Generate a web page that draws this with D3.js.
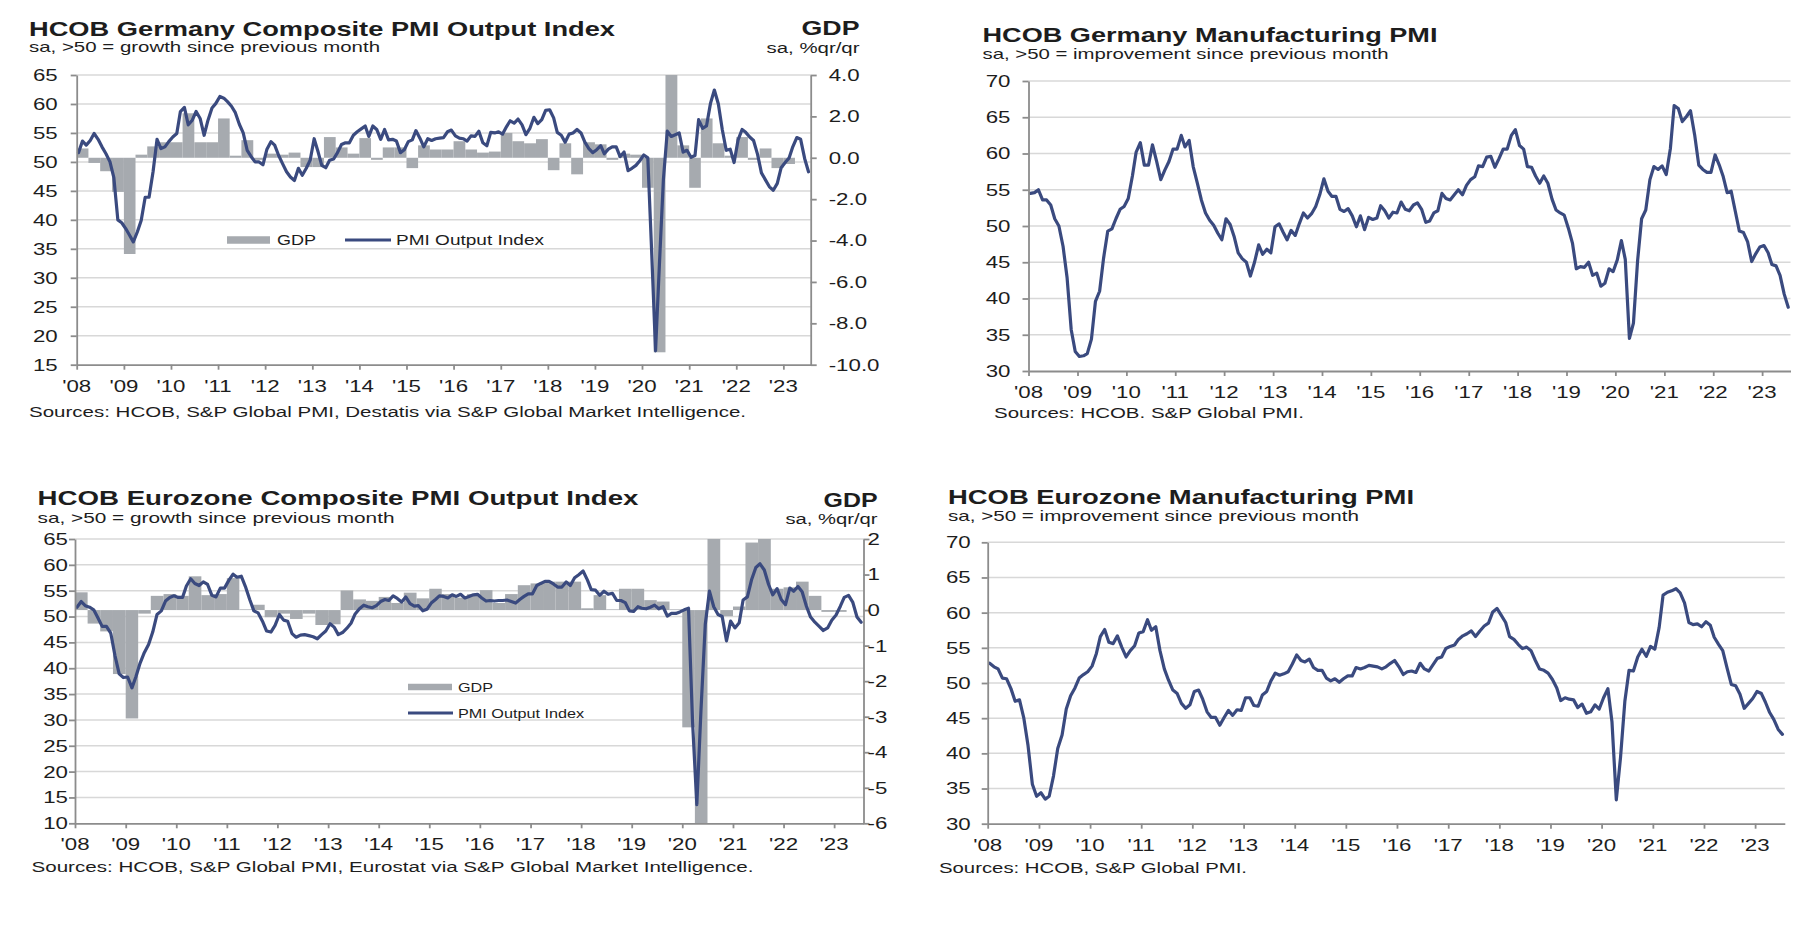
<!DOCTYPE html>
<html><head><meta charset="utf-8">
<script src="https://cdn.jsdelivr.net/npm/d3@7"></script>
<style>
body{margin:0;background:#fff}
svg{display:block}
text{font-family:"Liberation Sans",Arial,Helvetica,sans-serif;fill:#1d1d1d}
</style>
</head><body>
<svg id="c" width="1804" height="942"></svg>
<script>
// ---------- categories / tick labels ----------
const yearLabels = ["'08","'09","'10","'11","'12","'13","'14","'15","'16","'17","'18","'19","'20","'21","'22","'23"];
const months = d3.timeMonth.range(new Date(2008,0,1), new Date(2023,7,1));          // Jan 2008 .. Jul 2023
const quarters = d3.timeMonth.every(3).range(new Date(2008,0,1), new Date(2023,6,1)); // 2008Q1 .. 2023Q2
const compTicksDE = [15,20,25,30,35,40,45,50,55,60,65];
const gdpTicksDE = [-10,-8,-6,-4,-2,0,2,4];
const compTicksEZ = [10,15,20,25,30,35,40,45,50,55,60,65];
const gdpTicksEZ = [-6,-5,-4,-3,-2,-1,0,1,2];
const mfgTicks = [30,35,40,45,50,55,60,65,70];

// ---------- series ----------
const deComposite = [
51.6,53.6,52.9,53.7,54.9,53.9,52.6,51.4,50.0,47.3,40.0,39.5,
38.5,37.3,36.2,37.9,39.9,43.9,43.9,48.3,53.9,52.3,52.6,53.5,
54.3,54.9,58.7,59.4,56.4,57.2,58.7,57.5,54.6,57.2,59.3,60.1,
61.3,61.0,60.4,59.6,58.5,56.5,55.0,52.0,50.9,50.0,50.0,49.5,
52.2,53.5,52.9,51.1,49.7,48.3,47.4,46.8,48.9,47.7,48.9,50.3,
54.0,51.7,49.4,49.0,50.3,50.5,51.6,53.0,53.3,53.3,54.6,55.2,
55.7,56.2,54.4,56.2,55.6,53.9,55.6,53.8,53.9,53.6,51.6,52.1,
53.5,53.8,55.4,54.1,52.6,54.0,53.7,54.0,54.1,54.2,55.2,55.5,
54.5,54.1,54.0,53.6,54.5,54.4,55.3,53.3,52.8,55.1,55.0,55.2,
54.8,56.1,57.1,56.7,57.4,56.4,54.7,55.8,57.7,56.6,57.3,58.9,
59.0,57.6,55.1,54.6,53.4,54.8,55.0,55.6,55.0,53.4,52.3,51.6,
52.1,52.8,51.4,52.2,52.6,52.6,50.9,51.7,48.5,48.9,49.4,50.2,
51.2,50.7,35.0,17.4,32.3,47.0,55.3,54.4,54.7,55.0,51.7,52.0,
50.8,51.1,57.3,55.8,56.2,60.1,62.4,60.0,55.5,52.0,52.2,49.9,
53.8,55.6,55.1,54.3,53.7,51.3,48.1,46.9,45.7,45.1,46.3,49.0,
49.9,50.7,52.6,54.2,53.9,50.6,48.3];

const deGDP = [
0.45,-0.25,-0.65,-1.65,
-4.65,0.15,0.55,0.75,
0.75,2.15,0.75,0.75,
1.9,0.1,0.85,-0.1,
0.2,0.15,0.25,-0.45,
-0.45,1.0,0.5,0.2,
0.95,-0.1,0.5,0.5,
-0.5,0.6,0.4,0.4,
0.8,0.4,0.25,0.3,
1.2,0.8,0.7,0.9,
-0.6,0.7,-0.8,0.75,
0.65,-0.1,0.2,0.15,
-1.45,-9.4,8.7,0.6,
-1.45,1.9,0.7,0.1,
1.0,-0.1,0.45,-0.5,
-0.3,0.0];

const deManufacturing = [
54.5,54.6,55.0,53.6,53.6,52.9,51.0,50.0,47.2,42.9,35.7,32.7,
32.0,32.1,32.4,34.4,39.6,41.0,45.6,49.3,49.6,51.0,52.3,52.7,
53.8,56.9,60.2,61.5,58.4,58.4,61.2,58.9,56.4,57.7,58.9,60.6,
60.6,62.5,60.9,61.8,58.2,55.9,53.6,51.8,50.8,50.1,49.0,48.1,
51.0,50.2,48.6,46.3,45.5,45.0,43.1,45.0,47.4,46.1,46.8,46.3,
49.9,50.3,49.2,48.1,49.4,48.7,50.3,51.8,51.1,51.7,52.7,54.3,
56.5,54.8,54.1,54.1,52.3,52.0,52.4,51.4,49.9,51.4,49.5,51.2,
50.9,51.1,52.8,52.1,51.1,51.9,51.8,53.3,52.3,52.1,52.9,53.2,
52.3,50.5,50.7,51.8,52.1,54.5,53.8,53.6,54.3,55.0,54.3,55.6,
56.4,56.8,58.3,58.2,59.5,59.6,58.1,59.3,60.6,60.6,62.5,63.3,
61.1,60.6,58.2,58.1,56.9,55.9,56.9,55.9,53.7,52.2,51.8,51.5,
49.7,47.6,44.1,44.4,44.3,45.0,43.2,43.5,41.7,42.1,44.1,43.7,
45.3,48.0,45.4,34.5,36.6,45.2,51.0,52.2,56.4,58.2,57.8,58.3,
57.1,60.7,66.6,66.2,64.4,65.1,65.9,62.6,58.4,57.8,57.4,57.4,
59.8,58.4,56.9,54.6,54.8,52.0,49.3,49.1,47.8,45.1,46.2,47.1,
47.3,46.3,44.7,44.5,43.2,40.6,38.8];

const ezComposite = [
51.8,52.9,52.1,51.8,51.3,49.7,48.1,48.1,46.8,42.5,38.9,38.2,
38.3,36.2,38.3,41.0,43.0,44.6,47.0,50.4,51.1,53.0,53.7,54.0,
53.7,53.7,55.9,57.3,56.4,56.0,56.7,56.2,54.1,53.8,55.5,55.5,
57.0,58.2,57.6,57.8,55.8,53.3,51.1,50.7,49.1,47.2,47.0,48.3,
50.4,49.3,49.1,46.7,46.0,46.4,46.5,46.3,46.1,45.7,46.5,47.2,
48.6,47.9,46.5,46.9,47.7,48.7,50.5,51.5,52.2,51.9,51.7,52.1,
52.9,53.3,53.1,54.0,53.5,52.8,53.8,52.5,52.0,52.1,51.1,51.4,
52.6,53.3,54.0,53.9,53.6,54.2,53.9,54.3,53.6,53.9,54.2,54.3,
53.6,53.0,53.1,53.0,53.1,53.1,53.2,52.9,52.6,53.3,53.9,54.4,
54.4,56.0,56.4,56.8,56.8,56.3,55.7,55.7,56.7,56.0,57.5,58.1,
58.8,57.1,55.2,55.1,54.1,54.9,54.3,54.5,53.1,53.1,52.7,51.1,
51.0,51.9,51.6,51.5,51.8,52.2,51.5,51.9,50.1,50.6,50.6,50.9,
51.3,51.6,29.7,13.6,31.9,48.5,54.9,51.9,50.4,50.0,45.3,49.1,
47.8,48.8,53.2,53.8,57.1,59.5,60.2,59.0,56.2,54.2,55.4,53.3,
52.3,55.5,54.9,55.8,54.8,52.0,49.9,48.9,48.1,47.3,47.8,49.3,
50.3,52.0,53.7,54.1,52.8,49.9,48.9];

const ezGDP = [
0.5,-0.38,-0.6,-1.8,
-3.05,-0.1,0.4,0.45,
0.4,0.95,0.42,0.45,
0.9,0.02,0.15,-0.2,
-0.1,-0.25,-0.1,-0.42,
-0.4,0.55,0.3,0.26,
0.37,0.2,0.49,0.33,
0.6,0.45,0.35,0.45,
0.56,0.2,0.45,0.7,
0.75,0.8,0.8,0.8,
0.05,0.42,0.02,0.6,
0.6,0.28,0.24,0.02,
-3.3,-11.6,12.4,-0.17,
0.1,1.9,2.2,0.6,
0.64,0.8,0.4,-0.05,
-0.05,0.0];

const ezManufacturing = [
52.8,52.3,52.0,50.7,50.6,49.2,47.4,47.6,45.0,41.1,35.6,33.9,
34.4,33.5,33.9,36.8,40.7,42.6,46.3,48.2,49.3,50.7,51.2,51.6,
52.4,54.2,56.6,57.6,55.8,55.6,56.7,55.1,53.7,54.6,55.3,57.1,
57.3,59.0,57.5,58.0,54.6,52.0,50.4,49.0,48.5,47.1,46.4,46.9,
48.8,49.0,47.7,45.9,45.1,45.1,44.0,45.1,46.1,45.4,46.2,46.1,
47.9,47.9,46.8,46.7,48.3,48.8,50.3,51.4,51.1,51.3,51.6,52.7,
54.0,53.2,53.0,53.4,52.2,51.8,51.8,50.7,50.3,50.6,50.1,50.6,
51.0,51.0,52.2,52.0,52.2,52.5,52.4,52.3,52.0,52.3,52.8,53.2,
52.3,51.2,51.6,51.7,51.5,52.8,52.0,51.7,52.6,53.5,53.7,54.9,
55.2,55.4,56.2,56.7,57.0,57.4,56.6,57.4,58.1,58.5,60.1,60.6,
59.6,58.6,56.6,56.2,55.5,54.9,55.1,54.6,53.2,52.0,51.8,51.4,
50.5,49.3,47.5,47.9,47.7,47.6,46.5,47.0,45.7,45.9,46.9,46.3,
47.9,49.2,44.5,33.4,39.4,47.4,51.8,51.7,53.7,54.8,53.8,55.2,
54.8,57.9,62.5,62.9,63.1,63.4,62.8,61.4,58.6,58.3,58.4,58.0,
58.7,58.2,56.5,55.5,54.6,52.1,49.8,49.6,48.4,46.4,47.1,47.8,
48.8,48.5,47.3,45.8,44.8,43.4,42.7];

// ---------- styling ----------
const navy = "#3a4a7f", barGrey = "#a6aaaf", gridC = "#d8d8d8", axisC = "#8c8c8c";
const TICK_SIZE = 16.5, TICK_SX = 1.35;
const svg = d3.select("#c");
svg.append("rect").attr("width",1804).attr("height",942).attr("fill","#fff");

function txt(g, s, x, y, o) {
  const t = g.append("text").text(s)
    .attr("font-size", o.size).attr("font-weight", o.weight || "normal");
  if (o.width) {
    t.attr("x", o.anchor === "end" ? x - o.width : x).attr("y", y)
     .attr("textLength", o.width).attr("lengthAdjust", "spacingAndGlyphs");
  } else {
    t.attr("transform", `translate(${x},${y}) scale(${o.sx || 1},1)`)
     .attr("text-anchor", o.anchor || "start");
    if (o.dy) t.attr("dy", o.dy);
  }
  return t;
}

function panel(cfg) {
  const g = svg.append("g");
  const x = d3.scaleTime().domain([new Date(2008,0,1), new Date(2023,7,1)]).range([cfg.x0, cfg.x1]);
  const y = d3.scaleLinear().domain(cfg.pmiDomain).range([cfg.yBot, cfg.yTop]);

  // gridlines
  g.append("g").selectAll("line").data(cfg.pmiTicks.filter(v => v !== cfg.pmiDomain[0])).join("line")
    .attr("x1", cfg.x0).attr("x2", cfg.x1).attr("y1", d => y(d)).attr("y2", d => y(d))
    .attr("stroke", gridC).attr("stroke-width", 1.5);

  let y2 = null;
  if (cfg.gdp) {
    y2 = d3.scaleLinear().domain(cfg.gdpDomain).range([cfg.yBot, cfg.yTop]);
    const clipId = cfg.id + "clip";
    g.append("clipPath").attr("id", clipId).append("rect")
      .attr("x", cfg.x0).attr("y", cfg.yTop).attr("width", cfg.x1 - cfg.x0).attr("height", cfg.yBot - cfg.yTop);
    g.append("g").attr("clip-path", `url(#${clipId})`).selectAll("rect")
      .data(quarters.map((q, i) => ({q, v: cfg.gdp[i]}))).join("rect")
      .attr("x", d => x(d.q)).attr("width", d => x(d3.timeMonth.offset(d.q, 3)) - x(d.q))
      .attr("y", d => y2(Math.max(0, d.v))).attr("height", d => Math.abs(y2(d.v) - y2(0)))
      .attr("fill", barGrey);
  }

  const line = d3.line().x((d, i) => x(d3.timeDay.offset(months[i], 14))).y(d => y(d));
  g.append("path").datum(cfg.pmi).attr("d", line).attr("fill", "none")
    .attr("stroke", navy).attr("stroke-width", 3.2).attr("stroke-linejoin", "round").attr("stroke-linecap","round");

  const yearDates = d3.timeYear.range(new Date(2008,0,1), new Date(2023,1,1));
  const styleAxis = sel => { sel.selectAll("path,line").attr("stroke", axisC).attr("stroke-width", 1.8); sel.selectAll("text").remove(); };

  g.append("g").attr("transform", `translate(${cfg.x0},0)`)
    .call(d3.axisLeft(y).tickValues(cfg.pmiTicks).tickSize(6).tickSizeOuter(0).tickFormat("")).call(styleAxis);
  g.append("g").attr("transform", `translate(0,${cfg.yBot})`)
    .call(d3.axisBottom(x).tickValues(yearDates).tickSize(5).tickSizeOuter(0).tickFormat("")).call(styleAxis);
  if (y2) {
    g.append("g").attr("transform", `translate(${cfg.x1},0)`)
      .call(d3.axisRight(y2).tickValues(cfg.gdpTicks).tickSize(6).tickSizeOuter(0).tickFormat("")).call(styleAxis);
    cfg.gdpTicks.forEach(v => txt(g, cfg.gdpFmt(v), cfg.x1 + cfg.rightGap, y2(v), {size: TICK_SIZE, sx: TICK_SX, dy: "0.36em"}));
  }
  cfg.pmiTicks.forEach(v => txt(g, String(v), cfg.x0 - cfg.leftGap, y(v), {size: TICK_SIZE, sx: TICK_SX, anchor: "end", dy: "0.36em"}));
  yearDates.forEach((d, i) => txt(g, yearLabels[i], x(d), cfg.yBot + 27, {size: TICK_SIZE, sx: TICK_SX, anchor: "middle"}));

  // titles
  const T = cfg.text;
  txt(g, T.title, T.tx, T.ty, {size: 20.5, weight: "bold", width: T.tw});
  txt(g, T.sub, T.tx, T.sy, {size: 14.5, width: T.sw});
  if (T.gdpX) {
    txt(g, "GDP", T.gdpX, T.gdpY, {size: 20, weight: "bold", anchor: "end", width: T.gdpW});
    txt(g, "sa, %qr/qr", T.gdpX, T.unitY, {size: 15.5, anchor: "end", width: T.unitW});
  }
  txt(g, T.src, T.srcX, T.srcY, {size: 15.5, width: T.srcW});

  if (cfg.legend) {
    const L = cfg.legend;
    g.append("rect").attr("x", L.gx0).attr("width", L.gx1 - L.gx0).attr("y", L.gy - L.gh/2).attr("height", L.gh).attr("fill", barGrey);
    txt(g, "GDP", L.gtx, L.gy + L.size*0.36, {size: L.size, width: L.gtw});
    g.append("line").attr("x1", L.lx0).attr("x2", L.lx1).attr("y1", L.ly).attr("y2", L.ly).attr("stroke", navy).attr("stroke-width", 3.2);
    txt(g, "PMI Output Index", L.ltx, L.ly + L.size*0.36, {size: L.size, width: L.ltw});
  }
}

const f1 = v => v.toFixed(1);
const f0 = v => v.toFixed(0);

panel({id: "p1", x0: 76.7, x1: 810.7, yTop: 75, yBot: 364.7,
  pmiDomain: [15,65], pmiTicks: compTicksDE, pmi: deComposite,
  gdp: deGDP, gdpDomain: [-10,4], gdpTicks: gdpTicksDE, gdpFmt: f1,
  leftGap: 19, rightGap: 18,
  text: {title: "HCOB Germany Composite PMI Output Index", tx: 29, ty: 35.5, tw: 586,
         sub: "sa, >50 = growth since previous month", sy: 51.5, sw: 351,
         gdpX: 859.5, gdpY: 35, gdpW: 58, unitY: 53, unitW: 93,
         src: "Sources: HCOB, S&P Global PMI, Destatis via S&P Global Market Intelligence.", srcX: 29, srcY: 417, srcW: 717},
  legend: {gx0: 227, gx1: 270, gy: 240, gh: 7.5, gtx: 277, gtw: 39,
           lx0: 345, lx1: 391, ly: 240, ltx: 396, ltw: 148, size: 14.5}
});

panel({id: "p2", x0: 1028.5, x1: 1790.5, yTop: 81, yBot: 371,
  pmiDomain: [30,70], pmiTicks: mfgTicks, pmi: deManufacturing,
  leftGap: 18,
  text: {title: "HCOB Germany Manufacturing PMI", tx: 982.5, ty: 42, tw: 455,
         sub: "sa, >50 = improvement since previous month", sy: 58.5, sw: 406,
         src: "Sources: HCOB. S&P Global PMI.", srcX: 994, srcY: 418, srcW: 310}
});

panel({id: "p3", x0: 75, x1: 863.5, yTop: 539, yBot: 823.3,
  pmiDomain: [10,65], pmiTicks: compTicksEZ, pmi: ezComposite,
  gdp: ezGDP, gdpDomain: [-6,2], gdpTicks: gdpTicksEZ, gdpFmt: f0,
  leftGap: 7, rightGap: 4,
  text: {title: "HCOB Eurozone Composite PMI Output Index", tx: 37.5, ty: 505, tw: 601,
         sub: "sa, >50 = growth since previous month", sy: 523, sw: 357,
         gdpX: 877.5, gdpY: 507, gdpW: 54, unitY: 524, unitW: 92,
         src: "Sources: HCOB, S&P Global PMI,  Eurostat via S&P Global Market Intelligence.", srcX: 31.5, srcY: 872, srcW: 722},
  legend: {gx0: 408, gx1: 452, gy: 687, gh: 6.5, gtx: 458, gtw: 35,
           lx0: 408, lx1: 453, ly: 713, ltx: 458, ltw: 126, size: 13.5}
});

panel({id: "p4", x0: 987.7, x1: 1784.8, yTop: 542.3, yBot: 823.7,
  pmiDomain: [30,70], pmiTicks: mfgTicks, pmi: ezManufacturing,
  leftGap: 17,
  text: {title: "HCOB Eurozone Manufacturing PMI", tx: 948, ty: 503.5, tw: 466,
         sub: "sa, >50 = improvement since previous month", sy: 520.5, sw: 411,
         src: "Sources: HCOB, S&P Global PMI.", srcX: 939, srcY: 873, srcW: 308}
});
</script>
</body></html>
